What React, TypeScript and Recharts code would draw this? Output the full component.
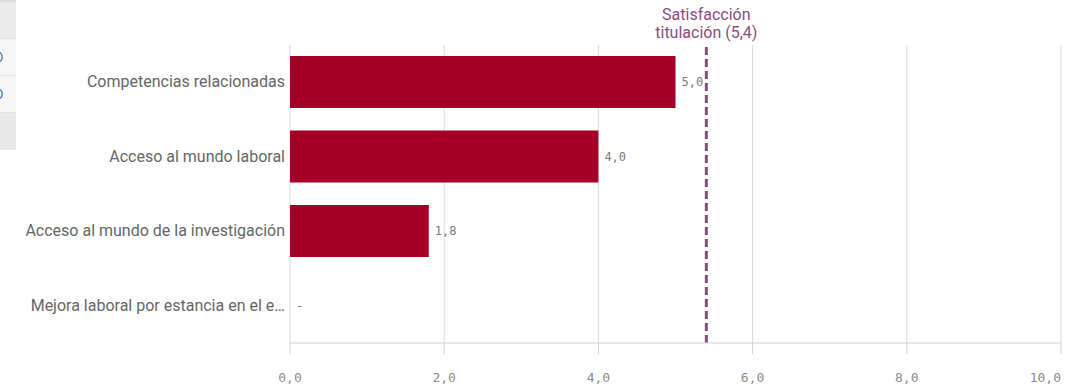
import React from "react";
import {
  BarChart,
  Bar,
  XAxis,
  YAxis,
  CartesianGrid,
  ReferenceLine,
  LabelList,
} from "recharts";

const categories = [
  "Competencias relacionadas",
  "Acceso al mundo laboral",
  "Acceso al mundo de la investigación",
  "Mejora laboral por estancia en el e…",
];
const values: (number | null)[] = [5.0, 4.0, 1.8, null];
const xTicks = [0, 2, 4, 6, 8, 10];
const referenceValue = 5.4;
const referenceLabel = ["Satisfacción", "titulación (5,4)"];

const data = categories.map((name, i) => ({ name, value: values[i] }));

const fmt = (v: number | null | undefined) =>
  v == null ? "-" : Number(v).toFixed(1).replace(".", ",");

const SANS = "Roboto, 'Open Sans', sans-serif";
const MONO = "'DejaVu Sans Mono', monospace";
const PURPLE = "#8a4d82";
const LABEL_GRAY = "#7a7a7a";

const XTick = (props: any) => {
  const { x, y, payload } = props;
  const last = payload.value === xTicks[xTicks.length - 1];
  return (
    <text
      x={x}
      y={y}
      dy={26}
      textAnchor={last ? "end" : "middle"}
      fontFamily={MONO}
      fontSize={13}
      fill="#8c8c8c"
    >
      {fmt(payload.value)}
    </text>
  );
};

// Category tick; when the category has no value, the "-" value marker is drawn
// just right of the value axis origin (where a bar label would sit).
const YTick = (props: any) => {
  const { x, y, payload } = props;
  const idx = categories.indexOf(payload.value);
  const missing = idx >= 0 && values[idx] == null;
  return (
    <g>
      <text
        x={x}
        y={y}
        dy={5}
        textAnchor="end"
        fontFamily={SANS}
        fontSize={16}
        fill="#666666"
      >
        {payload.value}
      </text>
      {missing ? (
        <text x={x + 11} y={y} dy={4} fontFamily={MONO} fontSize={12} fill={LABEL_GRAY}>
          {fmt(null)}
        </text>
      ) : null}
    </g>
  );
};

const ValueLabel = (props: any) => {
  const { x, y, width, height, index } = props;
  const raw = typeof index === "number" ? values[index] : props.value;
  if (raw == null) return null;
  const xx = Number(x) + (Number(width) || 0) + 6;
  const yy = Number(y) + (Number(height) || 0) / 2 + 4;
  if (!isFinite(xx) || !isFinite(yy)) return null;
  return (
    <text x={xx} y={yy} fontFamily={MONO} fontSize={12} fill={LABEL_GRAY}>
      {fmt(raw)}
    </text>
  );
};

const RefLabel = (props: any) => {
  const vb = props.viewBox || {};
  const x = vb.x;
  const y = vb.y;
  return (
    <text
      x={x}
      y={y - 25.5}
      textAnchor="middle"
      fontFamily={SANS}
      fontSize={16}
      fill={PURPLE}
    >
      <tspan x={x} dy={0}>
        {referenceLabel[0]}
      </tspan>
      <tspan x={x} dy={18}>
        {referenceLabel[1]}
      </tspan>
    </text>
  );
};

const SidePanel = () => (
  <div
    style={{
      position: "absolute",
      left: 0,
      top: 0,
      width: 16,
      height: 150,
      overflow: "hidden",
    }}
  >
    <div style={{ height: 2, background: "#dcdcdc" }} />
    <div style={{ height: 36, background: "#ececec" }} />
    {[0, 1].map((i) => (
      <div
        key={i}
        style={{
          height: 36,
          background: "#f6f6f6",
          borderTop: "1px solid #e2e2e2",
          position: "relative",
        }}
      >
        <svg width={16} height={36} style={{ position: "absolute", left: 0, top: 0 }}>
          <ellipse cx={-1} cy={18} rx={3.2} ry={4.5} fill="none" stroke="#3f7ab8" strokeWidth={1.3} />
        </svg>
      </div>
    ))}
    <div style={{ height: 37, background: "#e8e8e8", borderTop: "1px solid #e2e2e2" }} />
  </div>
);

export default function App() {
  return (
    <div
      style={{
        position: "absolute",
        left: 0,
        top: 0,
        width: 1088,
        height: 390,
        background: "#ffffff",
        overflow: "hidden",
      }}
    >
      <SidePanel />
      <BarChart
        width={1088}
        height={390}
        data={data}
        layout="vertical"
        margin={{ top: 45, right: 27, bottom: 0, left: 0 }}
      >
        <CartesianGrid horizontal={false} stroke="#dadada" />
        <XAxis
          type="number"
          domain={[0, 10]}
          ticks={xTicks}
          interval={0}
          height={47}
          tickSize={11}
          axisLine={{ stroke: "#d2d2d2" }}
          tickLine={{ stroke: "#d2d2d2" }}
          tick={<XTick />}
        />
        <YAxis
          type="category"
          dataKey="name"
          width={290}
          axisLine={false}
          tickLine={false}
          tickSize={0}
          tickMargin={5}
          interval={0}
          tick={<YTick />}
        />
        <Bar dataKey="value" fill="#a50026" barSize={52} isAnimationActive={false}>
          <LabelList dataKey="value" content={<ValueLabel />} />
        </Bar>
        <ReferenceLine
          x={referenceValue}
          stroke={PURPLE}
          strokeWidth={3}
          strokeDasharray="8 4"
          label={(p: any) => <RefLabel {...p} />}
        />
      </BarChart>
    </div>
  );
}
